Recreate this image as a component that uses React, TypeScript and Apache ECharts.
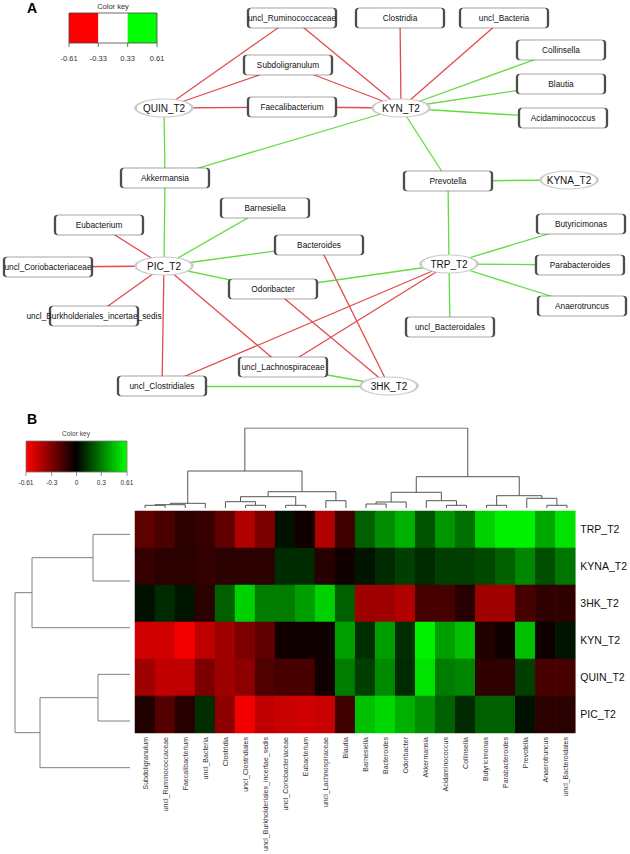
import React, { useEffect, useRef } from 'react';
import * as echarts from 'echarts';

const FONT = '"Liberation Sans", Arial, Helvetica, sans-serif';
const RED_EDGE = '#e24b4b';
const GREEN_EDGE = '#62dc3e';
const BOX_SYMBOL = 'path://M3,0H85A3,3 0 0 1 88,3V17A3,3 0 0 1 85,20H3A3,3 0 0 1 0,17V3A3,3 0 0 1 3,0Z';

// ---------------- Panel A : network ----------------
const nodeNames = [
  'uncl_Ruminococcaceae', 'Clostridia', 'uncl_Bacteria', 'Subdoligranulum', 'Faecalibacterium',
  'QUIN_T2', 'KYN_T2', 'Collinsella', 'Blautia', 'Acidaminococcus', 'Prevotella', 'KYNA_T2',
  'Akkermansia', 'Barnesiella', 'Eubacterium', 'Bacteroides', 'PIC_T2', 'uncl_Coriobacteriaceae',
  'Odoribacter', 'uncl_Burkholderiales_incertae_sedis', 'uncl_Lachnospiraceae', 'uncl_Clostridiales',
  '3HK_T2', 'TRP_T2', 'Butyricimonas', 'Parabacteroides', 'Anaerotruncus', 'uncl_Bacteroidales',
];
const nodeX = [292, 400, 504, 288, 292, 164, 401, 561, 561, 563, 448, 569, 165, 265, 99, 319, 164, 48, 273, 94, 283, 162, 389, 449, 581, 580, 582, 450];
const nodeY = [18, 18, 18, 65, 107, 108, 108, 50, 84, 118, 181, 180, 178, 208, 225, 245, 266, 267, 289, 316, 367, 386, 386, 264, 224, 265, 306, 327];
const metaboliteNodes = ['QUIN_T2', 'KYN_T2', 'KYNA_T2', 'PIC_T2', '3HK_T2', 'TRP_T2'];

const edgeSource = [
  'QUIN_T2', 'QUIN_T2', 'QUIN_T2', 'KYN_T2', 'KYN_T2', 'KYN_T2', 'KYN_T2', 'KYN_T2',
  'PIC_T2', 'PIC_T2', 'PIC_T2', 'PIC_T2', 'PIC_T2', 'TRP_T2', 'TRP_T2', '3HK_T2', '3HK_T2',
  'KYN_T2', 'KYN_T2', 'KYN_T2', 'KYN_T2', 'KYN_T2', 'QUIN_T2', 'PIC_T2', 'PIC_T2', 'PIC_T2', 'PIC_T2',
  'KYNA_T2', 'TRP_T2', 'TRP_T2', 'TRP_T2', 'TRP_T2', 'TRP_T2', 'TRP_T2', '3HK_T2', '3HK_T2',
];
const edgeTarget = [
  'uncl_Ruminococcaceae', 'Subdoligranulum', 'Faecalibacterium', 'uncl_Ruminococcaceae', 'Subdoligranulum',
  'Faecalibacterium', 'Clostridia', 'uncl_Bacteria', 'Eubacterium', 'uncl_Coriobacteriaceae',
  'uncl_Burkholderiales_incertae_sedis', 'uncl_Clostridiales', 'uncl_Lachnospiraceae', 'uncl_Clostridiales',
  'uncl_Lachnospiraceae', 'Bacteroides', 'Odoribacter',
  'Collinsella', 'Blautia', 'Acidaminococcus', 'Akkermansia', 'Prevotella', 'Akkermansia', 'Akkermansia',
  'Barnesiella', 'Bacteroides', 'Odoribacter', 'Prevotella', 'Prevotella', 'Butyricimonas', 'Parabacteroides',
  'Anaerotruncus', 'uncl_Bacteroidales', 'Odoribacter', 'uncl_Lachnospiraceae', 'uncl_Clostridiales',
];
const edgeSign = [
  -1, -1, -1, -1, -1, -1, -1, -1, -1, -1, -1, -1, -1, -1, -1, -1, -1,
  1, 1, 1, 1, 1, 1, 1, 1, 1, 1, 1, 1, 1, 1, 1, 1, 1, 1, 1,
];

// key of panel A
const keyATicks = ['-0.61', '-0.33', '0.33', '0.61'];
const keyAColors = ['#ff0000', '#ffffff', '#00ff00'];

// ---------------- Panel B : heatmap ----------------
const colNames = [
  'Subdoligranulum', 'uncl_Ruminococcaceae', 'Faecalibacterium', 'uncl_Bacteria', 'Clostridia',
  'uncl_Clostridiales', 'uncl_Burkholderiales_incertae_sedis', 'uncl_Coriobacteriaceae', 'Eubacterium',
  'uncl_Lachnospiraceae', 'Blautia', 'Barnesiella', 'Bacteroides', 'Odoribacter', 'Akkermansia',
  'Acidaminococcus', 'Collinsella', 'Butyricimonas', 'Parabacteroides', 'Prevotella', 'Anaerotruncus',
  'uncl_Bacteroidales',
];
const rowNames = ['TRP_T2', 'KYNA_T2', '3HK_T2', 'KYN_T2', 'QUIN_T2', 'PIC_T2'];

const trpValues = [-0.22, -0.18, -0.1, -0.13, -0.23, -0.42, -0.3, 0.04, -0.04, -0.42, -0.15, 0.23, 0.34, 0.42, 0.2, 0.36, 0.27, 0.5, 0.58, 0.58, 0.4, 0.54];
const kynaValues = [-0.13, -0.1, -0.1, -0.12, -0.1, -0.1, -0.1, 0.1, 0.1, -0.09, -0.04, 0.05, 0.1, 0.15, 0.1, 0.15, 0.15, 0.17, 0.23, 0.32, 0.19, 0.28];
const hkValues = [0.04, 0.1, 0.05, -0.1, 0.23, 0.5, 0.3, 0.3, 0.38, 0.5, 0.23, -0.38, -0.38, -0.42, -0.17, -0.17, -0.09, -0.38, -0.38, -0.17, -0.11, -0.11];
const kynValues = [-0.5, -0.5, -0.58, -0.46, -0.38, -0.3, -0.23, -0.04, -0.04, -0.04, 0.38, 0.11, 0.38, 0.11, 0.58, 0.38, 0.46, -0.08, -0.04, 0.46, -0.03, 0.05];
const quinValues = [-0.38, -0.46, -0.46, -0.3, -0.38, -0.34, -0.19, -0.17, -0.17, -0.04, 0.3, 0.15, 0.33, 0.1, 0.54, 0.3, 0.32, -0.11, -0.11, 0.15, -0.17, -0.17];
const picValues = [-0.08, -0.2, -0.09, 0.11, -0.34, -0.58, -0.46, -0.48, -0.5, -0.48, -0.15, 0.46, 0.52, 0.42, 0.34, 0.23, 0.1, 0.23, 0.23, 0.04, -0.1, -0.1];
const heatRows = [trpValues, kynaValues, hkValues, kynValues, quinValues, picValues];

const keyBTicks = [-0.61, -0.3, 0, 0.3, 0.61];

// column dendrogram (hclust-style merges: negative = leaf, positive = earlier merge step)
const colMergeLeft = [-1, 1, 2, -6, -5, -8, 5, -10, 7, 3, -12, 11, -16, -15, 12, -18, -21, -20, 16, 15, 10];
const colMergeRight = [-2, -3, -4, -7, 4, -9, 6, -11, 8, 9, -13, -14, -17, 13, 14, -19, -22, 17, 18, 19, 20];
const colMergeHeight = [2.7, 3.3, 4.7, 2.7, 6.3, 2.7, 11.3, 7.3, 16.3, 37, 4, 6, 2.7, 7.3, 15.7, 2.7, 2.7, 9.7, 12.3, 31.3, 80];

// row dendrogram
const rowMergeLeft = [-1, -4, 1, 2, 3];
const rowMergeRight = [-2, -5, -3, -6, 4];
const rowMergeHeight = [37, 32, 98, 90, 115];

function dendroSegments(left: number[], right: number[], heights: number[]) {
  const pos: number[] = [];
  const hgt: number[] = [];
  const get = (k: number) => (k < 0 ? [-k - 1 + 0.5, 0] : [pos[k - 1], hgt[k - 1]]);
  const segs: number[][][] = [];
  left.forEach((a, i) => {
    const [pa, ha] = get(a);
    const [pb, hb] = get(right[i]);
    const h = heights[i];
    pos[i] = (pa + pb) / 2;
    hgt[i] = h;
    segs.push([[pa, ha], [pa, h], [pb, h], [pb, hb]]);
  });
  return segs;
}

const centerText = (text: string, x: number, y: number, font: string, fill: string) => ({
  type: 'text', x, y,
  style: { text, font, fill, textAlign: 'center', textVerticalAlign: 'middle', align: 'center', verticalAlign: 'middle' },
});

function buildOption(): any {
  const graphData = nodeNames.map((n, i) => {
    const met = metaboliteNodes.includes(n);
    return {
      name: n,
      value: [nodeX[i], nodeY[i]],
      symbol: met ? 'circle' : BOX_SYMBOL,
      symbolSize: met ? [57, 18] : [88, 20],
      symbolKeepAspect: false,
      itemStyle: met
        ? { color: '#ffffff', borderColor: '#cacaca', borderWidth: 1.5 }
        : { color: '#ffffff', borderColor: '#4d4d4d', borderWidth: 1.1 },
      label: { fontSize: met ? 10 : 8.3 },
    };
  });
  const links = edgeSource.map((s, i) => ({
    source: s,
    target: edgeTarget[i],
    lineStyle: { color: edgeSign[i] < 0 ? RED_EDGE : GREEN_EDGE },
  }));

  const heatData: number[][] = [];
  heatRows.forEach((row, r) => row.forEach((v, c) => heatData.push([c, r, v])));

  const colSegs = dendroSegments(colMergeLeft, colMergeRight, colMergeHeight).map((s) => ({ coords: s }));
  const rowSegs = dendroSegments(rowMergeLeft, rowMergeRight, rowMergeHeight).map((s) => ({
    coords: s.map(([p, h]) => [h, p]),
  }));

  const graphic: any[] = [];
  graphic.push(centerText('A', 32, 8, `bold 14px ${FONT}`, '#000'));
  graphic.push(centerText('B', 32, 419, `bold 14px ${FONT}`, '#000'));

  // key A
  const kaX0 = 69, kaW = 88, kaY0 = 13, kaH = 30;
  const segW = kaW / keyAColors.length;
  graphic.push(centerText('Color key', kaX0 + kaW / 2, 6, `7.5px ${FONT}`, '#333'));
  keyAColors.forEach((c, i) => {
    graphic.push({ type: 'rect', shape: { x: kaX0 + i * segW, y: kaY0, width: segW, height: kaH }, style: { fill: c } });
  });
  graphic.push({ type: 'rect', shape: { x: kaX0, y: kaY0, width: kaW, height: kaH }, style: { fill: 'none', stroke: '#444', lineWidth: 0.8 } });
  keyATicks.forEach((t, i) => {
    const x = kaX0 + i * segW;
    graphic.push({ type: 'line', shape: { x1: x, y1: kaY0 + kaH, x2: x, y2: kaY0 + kaH + 4 }, style: { stroke: '#444', lineWidth: 0.8 } });
    graphic.push(centerText(t, x, 58, `7.5px ${FONT}`, '#333'));
  });

  // key B
  const kbX0 = 26, kbW = 101, kbY0 = 441, kbH = 31;
  const kMin = keyBTicks[0], kMax = keyBTicks[keyBTicks.length - 1];
  graphic.push(centerText('Color key', 76, 433, `6.6px ${FONT}`, '#444'));
  graphic.push({
    type: 'rect', shape: { x: kbX0, y: kbY0, width: kbW, height: kbH },
    style: {
      fill: new echarts.graphic.LinearGradient(0, 0, 1, 0, [
        { offset: 0, color: '#ff0000' }, { offset: 0.5, color: '#000000' }, { offset: 1, color: '#00ff00' },
      ]),
      stroke: '#777', lineWidth: 0.8,
    },
  });
  keyBTicks.forEach((t) => {
    const x = kbX0 + ((t - kMin) / (kMax - kMin)) * kbW;
    graphic.push({ type: 'line', shape: { x1: x, y1: kbY0 + kbH, x2: x, y2: kbY0 + kbH + 4 }, style: { stroke: '#777', lineWidth: 0.8 } });
    graphic.push(centerText(String(t), x, 482, `6.6px ${FONT}`, '#333'));
  });

  return {
    animation: false,
    backgroundColor: '#ffffff',
    textStyle: { fontFamily: FONT },
    grid: [
      { left: 0, top: 0, width: 630, height: 420 },
      { left: 135, top: 511, width: 442, height: 280 },
      { left: 135, top: 428, width: 442, height: 80 },
      { left: 15, top: 511, width: 115, height: 280 },
    ],
    xAxis: [
      { gridIndex: 0, type: 'value', min: 0, max: 630, show: false },
      {
        gridIndex: 1, type: 'category', data: colNames, position: 'bottom',
        axisLine: { show: false }, axisTick: { show: false }, splitLine: { show: false },
        axisLabel: { rotate: 90, interval: 0, fontSize: 7, color: '#333', margin: 4, fontFamily: FONT },
      },
      { gridIndex: 2, type: 'value', min: 0, max: colNames.length, show: false },
      { gridIndex: 3, type: 'value', min: 0, max: 115, inverse: true, show: false },
    ],
    yAxis: [
      { gridIndex: 0, type: 'value', min: 0, max: 420, inverse: true, show: false },
      {
        gridIndex: 1, type: 'category', data: rowNames, inverse: true, position: 'right',
        axisLine: { show: false }, axisTick: { show: false }, splitLine: { show: false },
        axisLabel: { fontSize: 10.5, color: '#111', margin: 5, fontFamily: FONT },
      },
      { gridIndex: 2, type: 'value', min: 0, max: 80, show: false },
      { gridIndex: 3, type: 'value', min: 0, max: rowNames.length, inverse: true, show: false },
    ],
    visualMap: {
      type: 'continuous', show: false, seriesIndex: 1, min: -0.61, max: 0.61,
      inRange: { color: ['#ff0000', '#000000', '#00ff00'] },
    },
    graphic,
    series: [
      {
        type: 'graph', layout: 'none', coordinateSystem: 'cartesian2d', xAxisIndex: 0, yAxisIndex: 0,
        roam: false, silent: true,
        data: graphData, links,
        label: { show: true, position: 'inside', color: '#111', fontFamily: FONT },
        lineStyle: { width: 1.3, opacity: 1, curveness: 0 },
        emphasis: { disabled: true },
      },
      {
        type: 'heatmap', xAxisIndex: 1, yAxisIndex: 1, data: heatData, silent: true,
        itemStyle: { borderWidth: 0 }, emphasis: { disabled: true }, progressive: 0,
      },
      {
        type: 'lines', coordinateSystem: 'cartesian2d', xAxisIndex: 2, yAxisIndex: 2, polyline: true,
        silent: true, data: colSegs, lineStyle: { color: '#555', width: 1, opacity: 1 },
      },
      {
        type: 'lines', coordinateSystem: 'cartesian2d', xAxisIndex: 3, yAxisIndex: 3, polyline: true,
        silent: true, data: rowSegs, lineStyle: { color: '#808080', width: 1, opacity: 1 },
      },
    ],
  };
}

export default function App() {
  const ref = useRef<HTMLDivElement>(null);
  useEffect(() => {
    if (!ref.current) return;
    const chart = echarts.init(ref.current, undefined, { renderer: 'svg' });
    chart.setOption(buildOption());
    return () => chart.dispose();
  }, []);
  return (
    <div
      ref={ref}
      style={{ position: 'fixed', left: 0, top: 0, width: 630, height: 854, background: '#fff' }}
    />
  );
}
